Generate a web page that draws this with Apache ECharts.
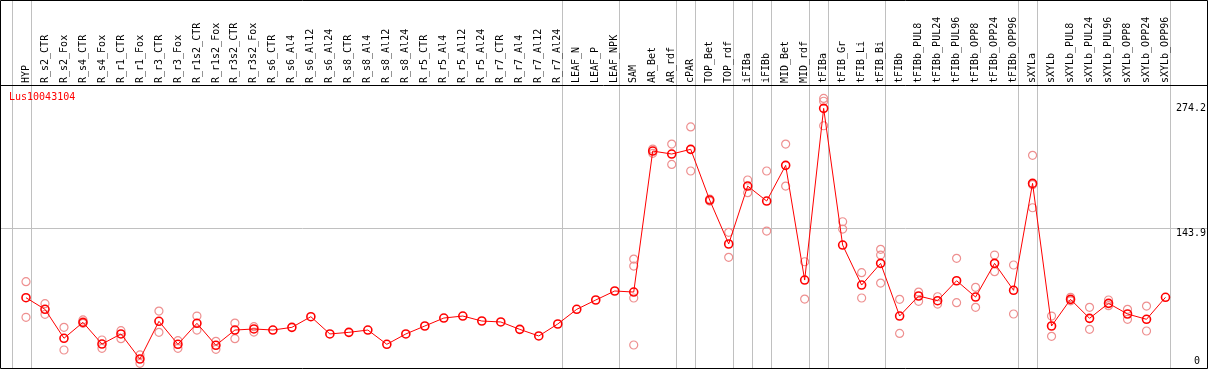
<!DOCTYPE html>
<html><head><meta charset="utf-8">
<script src="https://cdn.jsdelivr.net/npm/echarts@6/dist/echarts.min.js"></script>
<style>html,body{margin:0;padding:0;background:#fff}#c{width:1209px;height:370px}</style>
</head><body><div id="c"></div>
<script>
var categories = ["HYP","R_s2_CTR","R_s2_Fox","R_s4_CTR","R_s4_Fox","R_r1_CTR","R_r1_Fox","R_r3_CTR","R_r3_Fox","R_r1s2_CTR","R_r1s2_Fox","R_r3s2_CTR","R_r3s2_Fox","R_s6_CTR","R_s6_Al4","R_s6_Al12","R_s6_Al24","R_s8_CTR","R_s8_Al4","R_s8_Al12","R_s8_Al24","R_r5_CTR","R_r5_Al4","R_r5_Al12","R_r5_Al24","R_r7_CTR","R_r7_Al4","R_r7_Al12","R_r7_Al24","LEAF_N","LEAF_P","LEAF_NPK","SAM","AR_Bet","AR_rdf","cPAR","TOP_Bet","TOP_rdf","iFIBa","iFIBb","MID_Bet","MID_rdf","tFIBa","tFIB_Gr","tFIB_Li","tFIB_Bi","tFIBb","tFIBb_PUL8","tFIBb_PUL24","tFIBb_PUL96","tFIBb_OPP8","tFIBb_OPP24","tFIBb_OPP96","sXYLa","sXYLb","sXYLb_PUL8","sXYLb_PUL24","sXYLb_PUL96","sXYLb_OPP8","sXYLb_OPP24","sXYLb_OPP96"];
var meanValues = [71.2,59.1,28.9,45.5,22.9,33.4,7.3,46.6,22.6,44.5,21.6,37.5,38.6,37.5,40.3,
  51.4,33.4,35.1,37.5,22.6,33.4,41.7,50.0,52.1,46.9,45.9,38.2,31.3,43.8,
  59.1,68.8,78.2,77.1,
  224.1,221.0,225.9,173.0,127.2,187.6,172.0,209.2,89.6,268.6,
  126.1,84.4,107.0,52.1,73.0,68.1,88.9,71.9,107.0,78.9,
  190.4,41.7,69.5,49.7,65.3,54.2,48.7,71.6];
var rep1 = [87.9,65.0,40.3,48.0,27.1,36.8,11.5,57.3,26.4,52.1,25.7,44.8,41.0,
  null,null,null,null,null,null,null,null,null,null,null,null,null,null,null,null,null,null,null,
  111.5,226.2,231.4,249.3,174.1,139.4,193.9,203.3,231.4,108.7,279.0,
  150.4,97.3,121.6,69.5,77.1,72.2,112.3,82.0,115.7,105.3,
  219.6,52.1,71.6,61.2,68.8,59.1,62.5,null];
var rep2 = [50.8,53.9,16.7,44.5,18.4,28.5,2.8,35.1,18.4,37.5,17.4,28.5,35.4,
  null,null,null,null,null,null,null,null,null,null,null,null,null,null,null,null,null,null,null,
  104.2,221.7,210.2,203.3,172.0,113.3,180.7,140.7,187.6,69.8,250.5,
  142.8,70.9,115.7,34.0,67.4,64.6,66.0,61.2,98.3,54.2,
  165.0,30.9,68.0,38.2,62.9,48.7,36.5,null];
var rep3 = [null,null,null,null,null,null,null,null,null,null,null,null,null,
  null,null,null,null,null,null,null,null,null,null,null,null,null,null,null,null,null,null,null,
  70.9,null,null,null,null,null,null,null,null,null,276.0,
  null,null,86.5,null,null,null,null,null,null,null,
  189.0,null,null,null,null,null,null,null];
var rep4 = [null,null,null,null,null,null,null,null,null,null,null,null,null,
  null,null,null,null,null,null,null,null,null,null,null,null,null,null,null,null,null,null,null,
  21.9,null,null,null,null,null,null,null,null,null,null,
  null,null,null,null,null,null,null,null,null,null,
  null,null,null,null,null,null,null,null];
var yLabelValues = [143.9, 274.2];
var yZeroLabel = [0];
var yMax = 274.2;
var gridLineValue = 143.9;
var separatorsAfter = [-1,0,28,31,34,35,37,38,39,41,42,45,52,53,60];
var titleText = "Lus10043104";

var MONO = "'DejaVu Sans Mono', 'Liberation Mono', monospace";
function dash(a){return a.map(function(v){return v==null?'-':v;});}

var chart = echarts.init(document.getElementById('c'), null, {renderer:'canvas'});
var paleSeries = [rep1,rep2,rep3,rep4].map(function(r){
  return {type:'scatter', data:dash(r), symbol:'circle', symbolSize:8, clip:false, z:2,
    itemStyle:{color:'rgba(0,0,0,0)', borderColor:'#ee9090', borderWidth:1.2, opacity:1},
    emphasis:{disabled:true}, silent:true};
});
var option = {
  animation:false,
  backgroundColor:'#fff',
  title:{text:titleText, left:9, top:92, padding:0,
    textStyle:{fontFamily:MONO, fontSize:10, fontWeight:'normal', color:'#ff0000'}},
  grid:{left:16.5, right:33.5, top:103, bottom:4, containLabel:false},
  xAxis:[{type:'category', data:categories, position:'top', boundaryGap:true,
    axisLine:{show:false}, axisTick:{show:false}, splitLine:{show:false},
    axisLabel:{interval:0, rotate:90, margin:20, fontFamily:MONO, fontSize:10, color:'#000'}}],
  yAxis:[
    {type:'value', position:'right', min:0, max:yMax,
     axisLine:{show:false}, axisTick:{show:false}, splitLine:{show:false},
     axisLabel:{customValues:yLabelValues, align:'right', verticalAlign:'top', margin:31,
       fontFamily:MONO, fontSize:10, color:'#000'}},
    {type:'value', position:'right', min:0, max:yMax,
     axisLine:{show:false}, axisTick:{show:false}, splitLine:{show:false},
     axisLabel:{customValues:yZeroLabel, align:'right', verticalAlign:'bottom', margin:25,
       fontFamily:MONO, fontSize:10, color:'#000'}}
  ],
  series: paleSeries.concat([{
    type:'line', data:meanValues, symbol:'circle', symbolSize:8, clip:false, z:3,
    lineStyle:{color:'#ff0000', width:1},
    itemStyle:{color:'rgba(0,0,0,0)', borderColor:'#ff0000', borderWidth:1.6},
    emphasis:{disabled:true}, silent:true
  }])
};
chart.setOption(option);

// background decorations positioned through the axes' own scales
var x0 = chart.convertToPixel({xAxisIndex:0}, 0);
var x1 = chart.convertToPixel({xAxisIndex:0}, 1);
var band = x1 - x0;
var gy = Math.round(chart.convertToPixel({yAxisIndex:0}, gridLineValue)) + 0.5;
var g = [];
separatorsAfter.forEach(function(i){
  var x = Math.round(x0 + band*i + band*0.24) + 0.5;
  g.push({type:'line', shape:{x1:x,y1:0,x2:x,y2:369}, style:{stroke:'#c0c0c0', lineWidth:1}, z:-10, silent:true});
});
g.push({type:'line', shape:{x1:1,y1:gy,x2:1207,y2:gy}, style:{stroke:'#c0c0c0', lineWidth:1}, z:-10, silent:true});
g.push({type:'line', shape:{x1:0,y1:85.5,x2:1207,y2:85.5}, style:{stroke:'#000', lineWidth:1}, z:-5, silent:true});
g.push({type:'rect', shape:{x:0.5,y:0.5,width:1207,height:368}, style:{fill:null, stroke:'#000', lineWidth:1}, z:-5, silent:true});
chart.setOption({graphic:g});
</script></body></html>
